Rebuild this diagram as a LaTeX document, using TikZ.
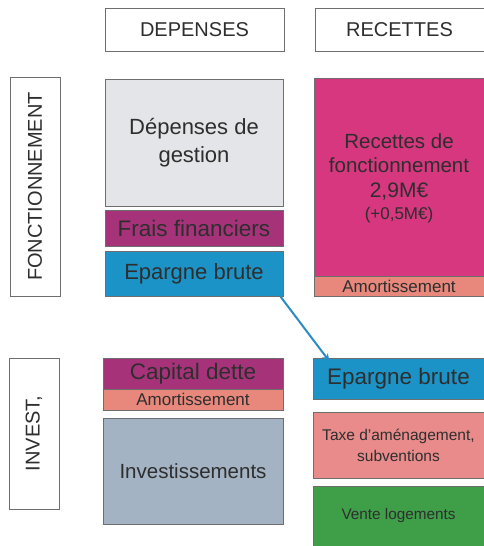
\documentclass[tikz,border=0pt]{standalone}
\usepackage{fontspec}
\setmainfont{Liberation Sans}
\usetikzlibrary{calc,arrows.meta}
\definecolor{txt}{HTML}{2E2E2E}
\definecolor{bord}{HTML}{6E6E6E}
\definecolor{gestion}{HTML}{E3E5E8}
\definecolor{frais}{HTML}{A6337A}
\definecolor{epargne}{HTML}{1C93C6}
\definecolor{recettes}{HTML}{D6377F}
\definecolor{amort}{HTML}{E8887D}
\definecolor{invest}{HTML}{A3B3C3}
\definecolor{taxe}{HTML}{E98B8B}
\definecolor{vente}{HTML}{3E9F48}
\definecolor{arrowc}{HTML}{2A8CC0}
\tikzset{
  blk/.style={draw=bord, line width=0.6pt, inner sep=0pt, text=txt, align=center},
}
\newcommand{\blkbox}[7]{%
  \node[blk,#6, minimum width={(#4)-(#2)}, minimum height={(#5)-(#3)}] (#1)
    at ({((#2)+(#4))/2},{((#3)+(#5))/2}) {#7};}
\begin{document}
\begin{tikzpicture}[x=1pt,y=-1pt]
\useasboundingbox (0,0) rectangle (484,546);
% headers
\blkbox{hdep}{105}{8}{284}{51}{fill=white,font=\fontsize{20}{22}\selectfont}{DEPENSES}
\blkbox{hrec}{315}{8}{484}{51}{fill=white,font=\fontsize{20}{22}\selectfont}{RECETTES}
% row labels
\blkbox{lfonc}{10}{77}{60}{296}{fill=white}{}
\node[text=txt, rotate=90, font=\fontsize{20}{22}\selectfont] (tfonc) at (lfonc.center) {FONCTIONNEMENT};
\blkbox{linv}{9}{358}{59}{509}{fill=white}{}
\node[text=txt, rotate=90, font=\fontsize{20}{22}\selectfont] (tinv) at (linv.center) {INVEST,};
% fonctionnement depenses
\blkbox{gest}{105}{79}{283}{206}{fill=gestion,font=\fontsize{22}{28}\selectfont}{Dépenses de\\gestion}
\blkbox{frais}{105}{210}{283}{246}{fill=frais,font=\fontsize{22.5}{24}\selectfont}{Frais financiers}
\blkbox{ep1}{105}{251}{283}{296}{fill=epargne,font=\fontsize{22}{24}\selectfont}{Epargne brute}
% fonctionnement recettes
\blkbox{rec}{314}{78}{484}{276}{fill=recettes}{}
\node[text=txt, align=center, font=\fontsize{20.5}{24}\selectfont] (rect) at ([yshift=-1pt]rec.center)
  {Recettes de\\fonctionnement\\[1pt]\fontsize{21}{26}\selectfont 2,9M€\\[-2pt]\fontsize{17}{20}\selectfont (+0,5M€)};
\blkbox{am1}{314}{276}{484}{296}{fill=amort,font=\fontsize{17}{18}\selectfont}{Amortissement}
% investissement depenses
\blkbox{cap}{103}{358}{283}{389}{fill=frais,font=\fontsize{22.5}{24}\selectfont}{Capital dette}
\blkbox{am2}{103}{389}{283}{410}{fill=amort,font=\fontsize{17}{18}\selectfont}{Amortissement}
\blkbox{inv}{103}{418}{283}{524}{fill=invest,font=\fontsize{20.5}{22}\selectfont}{Investissements}
% investissement recettes
\blkbox{ep2}{313}{358}{484}{399}{fill=epargne,font=\fontsize{22.5}{24}\selectfont}{Epargne brute}
\blkbox{taxe}{313}{412}{484}{478}{fill=taxe,font=\fontsize{15.5}{21}\selectfont}{Taxe d'aménagement,\\subventions}
\blkbox{vente}{313}{486}{484}{546}{fill=vente,font=\fontsize{15.3}{17}\selectfont}{Vente logements}
% arrow
\draw[arrowc, line width=2pt, -{Stealth[length=8pt,width=7pt]}]
  ([xshift=-3pt]ep1.south east) -- ([xshift=17pt,yshift=-4pt]ep2.north west);
\end{tikzpicture}
\end{document}
